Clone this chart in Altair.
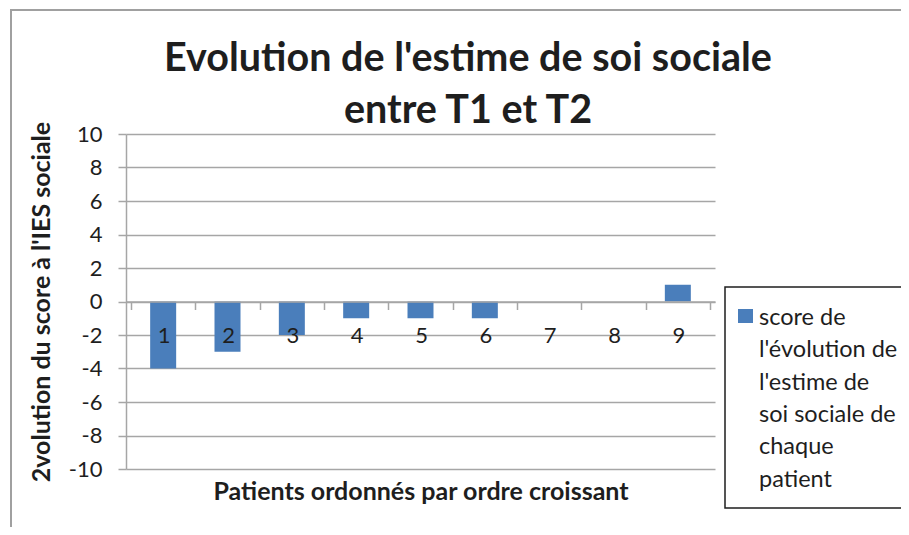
import altair as alt
import pandas as pd

# ---- data ----
PATIENTS = [1, 2, 3, 4, 5, 6, 7, 8, 9]
SCORES = [-4, -3, -2, -1, -1, -1, 0, 0, 1]
Y_TICKS = [-10, -8, -6, -4, -2, 0, 2, 4, 6, 8, 10]
X_BOUNDS = [0.5, 1.5, 2.5, 3.5, 4.5, 5.5, 6.5, 7.5, 8.5, 9.5]
TITLE_LINES = ["Evolution de l'estime de soi sociale", "entre T1 et T2"]
Y_TITLE = "2volution du score à l'IES sociale"
X_TITLE = "Patients ordonnés par ordre croissant"
LEGEND_LINES = ["score de", "l'évolution de", "l'estime de", "soi sociale de", "chaque", "patient"]

FONT = "Lato"
BLUE = "#4a7ebb"
GRID = "#a6a6a6"
INK = "#1e1e1e"

W, H = 589, 335

df = pd.DataFrame({"patient": PATIENTS, "score": SCORES})
one = pd.DataFrame({"k": [0]})

# outer chart border (decoration)
border = alt.Chart(one).mark_rect(fill=None, stroke="#a0a0a0", strokeWidth=2, clip=False).encode(
    x=alt.value(-115), x2=alt.value(900), y=alt.value(-124), y2=alt.value(600)
)

title = alt.Chart(one).mark_text(
    text=TITLE_LINES, align="center", baseline="middle", font=FONT, fontSize=39.5,
    fontWeight="bold", lineHeight=52, color=INK, clip=False
).encode(x=alt.value(342), y=alt.value(-75))

bars = alt.Chart(df).mark_bar(size=26, color=BLUE).encode(
    x=alt.X(
        "patient:Q",
        scale=alt.Scale(domain=[0.5, 9.5], nice=False, zero=False),
        axis=alt.Axis(
            values=X_BOUNDS,
            labelExpr="datum.value < 9 ? '' + (datum.value + 0.5) : ''",
            labelOffset=W / 18,
            labelOverlap=False,
            labelBound=False,
            labelFlush=False,
            labelFontSize=22,
            labelFont=FONT,
            labelColor=INK,
            labelPadding=16,
            tickSize=8,
            tickColor=GRID,
            tickWidth=1.5,
            domainColor=GRID,
            domainWidth=1.5,
            grid=False,
            offset=-H / 2,
            zindex=1,
            title=X_TITLE,
            titleFont=FONT,
            titleFontSize=25,
            titleFontWeight="bold",
            titleColor=INK,
            titleBaseline="middle",
            titleY=H / 2 + 22,
        ),
    ),
    y=alt.Y(
        "score:Q",
        scale=alt.Scale(domain=[-10, 10], nice=False),
        axis=alt.Axis(
            values=Y_TICKS,
            labelExpr="'' + datum.value",
            grid=True,
            gridColor=GRID,
            gridWidth=1.5,
            tickSize=8,
            tickColor=GRID,
            tickWidth=1.5,
            domainColor=GRID,
            domainWidth=1.5,
            labelFont=FONT,
            labelFontSize=22,
            labelColor=INK,
            labelPadding=16,
            title=Y_TITLE,
            titleFont=FONT,
            titleFontSize=25,
            titleFontWeight="bold",
            titleColor=INK,
            titlePadding=14,
            zindex=0,
        ),
    ),
)

legend_box = alt.Chart(one).mark_rect(fill="white", stroke=INK, strokeWidth=1.5, clip=False).encode(
    x=alt.value(599), x2=alt.value(781), y=alt.value(153), y2=alt.value(374)
)
legend_sym = alt.Chart(one).mark_rect(color=BLUE, clip=False).encode(
    x=alt.value(612), x2=alt.value(627), y=alt.value(175), y2=alt.value(189)
)
legend_txt = alt.Chart(one).mark_text(
    text=LEGEND_LINES, align="left", baseline="top", font=FONT, fontSize=23.5,
    lineHeight=32.3, color=INK, clip=False
).encode(x=alt.value(633), y=alt.value(172))

chart = alt.layer(border, title, bars, legend_box, legend_sym, legend_txt).properties(
    width=W,
    height=H,
    autosize=alt.AutoSizeParams(type="none"),
    padding={"left": 118, "top": 126, "right": 186, "bottom": 58},
).configure_view(stroke=None)

chart.save("out.html", embed_options={"renderer": "svg", "actions": False})
